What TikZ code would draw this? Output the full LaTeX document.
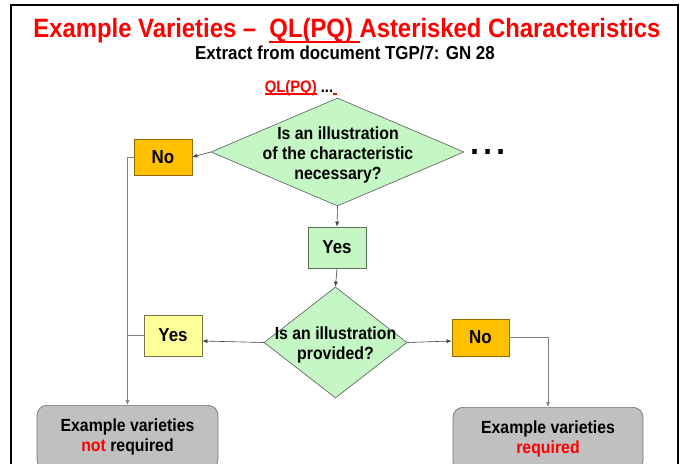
\documentclass[tikz,border=0pt]{standalone}
\usepackage{fontspec}
\setmainfont{Liberation Sans}[FakeStretch=0.9]
\newfontfamily\dotfont{Liberation Sans}
\usetikzlibrary{shapes.geometric,arrows.meta}
\definecolor{dgreen}{RGB}{196,247,196}
\definecolor{orng}{RGB}{255,192,0}
\definecolor{lyel}{RGB}{255,255,153}
\definecolor{gbox}{RGB}{192,192,192}
\newcommand\myul[3]{\setbox0\hbox{#3}\rlap{\rule[-#1]{\wd0}{#2}}\box0}
\begin{document}
\begin{tikzpicture}[x=1pt,y=-1pt,
  dia/.style={diamond, draw=black!65, fill=dgreen, line width=0.6pt, inner sep=0pt},
  dtext/.style={align=center, font=\fontsize{17.6}{20}\selectfont\bfseries, inner sep=0pt},
  nobox/.style={draw=orng!55!black, fill=orng, line width=0.7pt, inner sep=0pt, font=\fontsize{18.8}{20}\selectfont\bfseries},
  yesg/.style={draw=dgreen!45!black, fill=dgreen, line width=0.7pt, inner sep=0pt, font=\fontsize{18.8}{20}\selectfont\bfseries},
  yesy/.style={draw=lyel!45!black, fill=lyel, line width=0.7pt, inner sep=0pt, font=\fontsize{18.8}{20}\selectfont\bfseries},
  endbox/.style={draw=black!55, fill=gbox, line width=0.7pt, rounded corners=10pt, anchor=north, minimum height=64pt, align=center, font=\fontsize{17.6}{20}\selectfont\bfseries},
  arr/.style={draw=black!75, line width=0.6pt, -{Latex[length=5pt,width=4pt]}},
  conn/.style={draw=black!50, line width=0.8pt},
]
\useasboundingbox (0,0) rectangle (685,463);
\draw[line width=2.5pt] (11,470) -- (11,5) -- (678,5) -- (678,470);

\node[anchor=base, text=red, font=\fontsize{26.5}{28}\selectfont\bfseries, inner sep=0pt] (title) at (347,37)
  {Example Varieties –\ \ \myul{6pt}{2.5pt}{QL(PQ)\ }Asterisked Characteristics};
\node[anchor=base, font=\fontsize{18.8}{20}\selectfont\bfseries, inner sep=0pt] (sub) at (345,59)
  {Extract from document TGP/7: GN 28};
\node[anchor=base, font=\fontsize{16.5}{18}\selectfont\bfseries, inner sep=0pt] (ql) at (301,92)
  {\textcolor{red}{\myul{2.5pt}{1.2pt}{QL(PQ)}}\ ...\textcolor{red}{\myul{2.5pt}{1.2pt}{\hspace{4pt}}}};

\node[dia, minimum width=253pt, minimum height=108pt] (d1) at (337.5,152) {};
\node[dtext] (t1) at (338,155) {Is an illustration\\of the characteristic\\necessary?};
\node[anchor=base, font=\dotfont\fontsize{47}{47}\selectfont, inner sep=0pt] (dots) at (488,154.5) {...};

\node[nobox, minimum width=58pt, minimum height=36pt] (no1) at (163,157) {No};
\node[yesg, minimum width=58pt, minimum height=41pt] (yes1) at (337,247.5) {Yes};

\node[dia, minimum width=143pt, minimum height=111pt] (d2) at (335.5,342.5) {};
\node[dtext] (t2) at (335.5,345) {Is an illustration\\provided?};

\node[yesy, minimum width=58pt, minimum height=41pt] (yes2) at (173,335.5) {Yes};
\node[nobox, minimum width=57pt, minimum height=37pt] (no2) at (480.5,337.5) {No};

\node[endbox, minimum width=181pt] (gbl) at (127.5,405) {Example varieties\\\textcolor{red}{not} required};
\node[endbox, minimum width=190pt] (gbr) at (548,407) {Example varieties\\\textcolor{red}{required}};

\draw[arr] (d1.west) -- (no1.east);
\draw[arr] (d1.south) -- (yes1.north);
\draw[arr] (yes1.south) -- (d2.north);
\draw[arr] (d2.west) -- ([yshift=-5.5pt]yes2.east);
\draw[arr] (d2.east) -- ([yshift=-3.5pt]no2.west);
\draw[conn, -{Latex[length=5pt,width=4pt]}] (no1.west) -| (gbl.north);
\draw[conn] (yes2.west) -- (yes2.west -| gbl.north);
\draw[conn, -{Latex[length=5pt,width=4pt]}] (no2.east) -| (gbr.north);
\end{tikzpicture}
\end{document}
